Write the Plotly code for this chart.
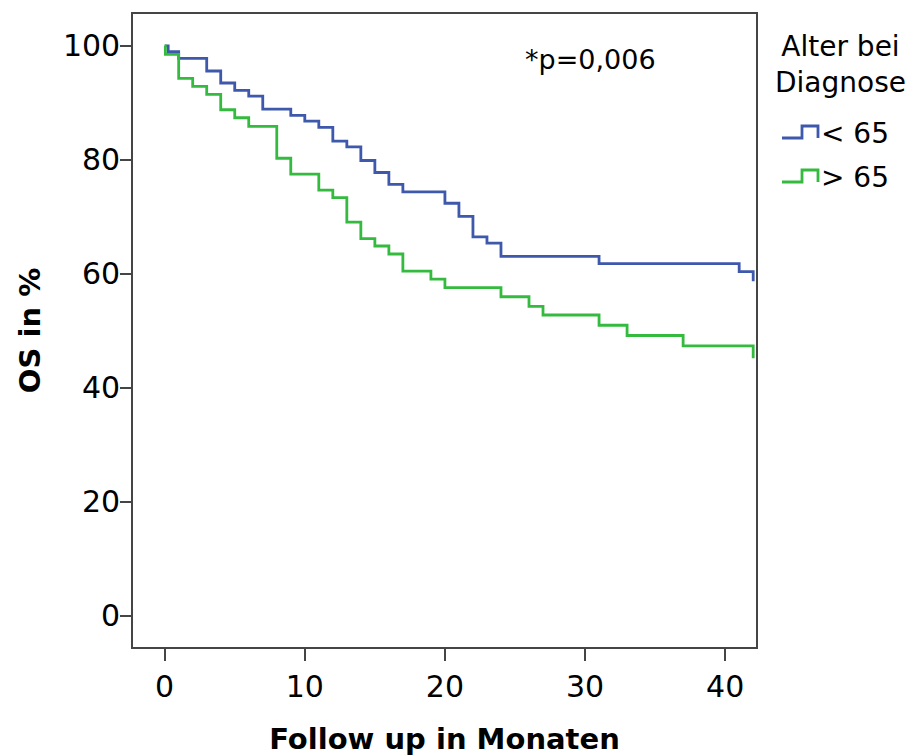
import plotly.graph_objects as go

# ---- data ----
months_lt65 = [0, 0.25, 1, 3, 4, 5, 6, 7, 9, 10, 11, 12, 13, 14, 15, 16, 17, 20, 21, 22, 23, 24, 31, 41, 42]
os_lt65 = [100, 99.0, 97.8, 95.6, 93.5, 92.2, 91.2, 88.9, 87.8, 86.8, 85.7, 83.3, 82.3, 79.9, 77.8, 75.7,
           74.4, 72.4, 70.1, 66.5, 65.4, 63.1, 61.8, 60.4, 58.7]
months_gt65 = [0, 0.05, 1, 2, 3, 4, 5, 6, 8, 9, 11, 12, 13, 14, 15, 16, 17, 19, 20, 24, 26, 27, 31, 33, 37, 42]
os_gt65 = [100, 98.5, 94.3, 92.9, 91.5, 88.8, 87.4, 85.9, 80.3, 77.5, 74.7, 73.4, 69.1, 66.2, 64.9, 63.5,
           60.5, 59.1, 57.6, 56.0, 54.3, 52.8, 51.0, 49.2, 47.4, 45.2]
group_names = ["< 65", "> 65"]
legend_title = "Alter bei<br>Diagnose"
x_ticks = [0, 10, 20, 30, 40]
y_ticks = [0, 20, 40, 60, 80, 100]
p_text = "*p=0,006"

BLUE = "rgb(62,88,172)"
GREEN = "rgb(52,186,62)"
AXC = "#454545"
FONT = "DejaVu Sans, Arial, sans-serif"
LW = 2.8

fig = go.Figure()
fig.add_trace(go.Scatter(x=months_lt65, y=os_lt65, mode="lines", line=dict(shape="hv", color=BLUE, width=LW),
                         name=group_names[0], showlegend=False))
fig.add_trace(go.Scatter(x=months_gt65, y=os_gt65, mode="lines", line=dict(shape="hv", color=GREEN, width=LW),
                         name=group_names[1], showlegend=False))

# plot-area pixel geometry (for the custom legend)
L, R, T, B = 133, 162, 14, 109
W, H = 918, 756
pw, ph = W - L - R, H - T - B

def px(xp):
    return (xp - L) / pw

def py(yp):
    return (H - B - yp) / ph

# custom step-shaped legend glyphs
for name, col, ylow, yhigh in [(group_names[0], BLUE, 138.0, 126.0), (group_names[1], GREEN, 182.0, 170.0)]:
    x0, x1, x2 = px(782), px(802), px(818)
    fig.add_shape(type="path", xref="paper", yref="paper",
                  path=f"M {x0},{py(ylow)} L {x1},{py(ylow)} L {x1},{py(yhigh)} L {x2},{py(yhigh)} L {x2},{py(ylow)}",
                  line=dict(color=col, width=LW))
    fig.add_annotation(xref="paper", yref="paper", x=px(819), y=py((ylow + yhigh) / 2 + 1), text=name,
                       showarrow=False, xanchor="left", yanchor="middle",
                       font=dict(family=FONT, size=28, color="black"))

fig.add_annotation(xref="paper", yref="paper", x=px(840), y=py(64), text=legend_title, showarrow=False,
                   xanchor="center", yanchor="middle", align="center",
                   font=dict(family=FONT, size=28, color="black"))

fig.add_annotation(x=30.4, y=97.6, text=p_text, showarrow=False, xanchor="center", yanchor="middle",
                   font=dict(family=FONT, size=27, color="black"))

fig.update_layout(
    width=W, height=H,
    margin=dict(l=L, r=R, t=T, b=B, pad=0, autoexpand=False),
    paper_bgcolor="white", plot_bgcolor="white",
    font=dict(family=FONT, size=29, color="black"),
    showlegend=False,
)
fig.update_xaxes(range=[-2.26, 42.2], tickvals=x_ticks, ticks="outside", ticklen=12, tickwidth=1.6,
                 tickcolor=AXC, showline=True, linecolor=AXC, linewidth=1.6, mirror=True,
                 showgrid=False, zeroline=False, tickfont=dict(size=30), automargin=False,
                 title=dict(text="<b>Follow up in Monaten</b>", font=dict(size=29), standoff=32))
fig.update_yaxes(range=[-5.44, 105.6], tickvals=y_ticks, ticks="outside", ticklen=11, tickwidth=1.6,
                 tickcolor=AXC, showline=True, linecolor=AXC, linewidth=1.6, mirror=True,
                 showgrid=False, zeroline=False, tickfont=dict(size=30), ticklabelstandoff=-6,
                 automargin=False,
                 title=dict(text="<b>OS in %</b>", font=dict(size=29), standoff=14))

fig.write_html("out.html", config={"displayModeBar": False},
               post_script="document.body.style.margin='0';")
